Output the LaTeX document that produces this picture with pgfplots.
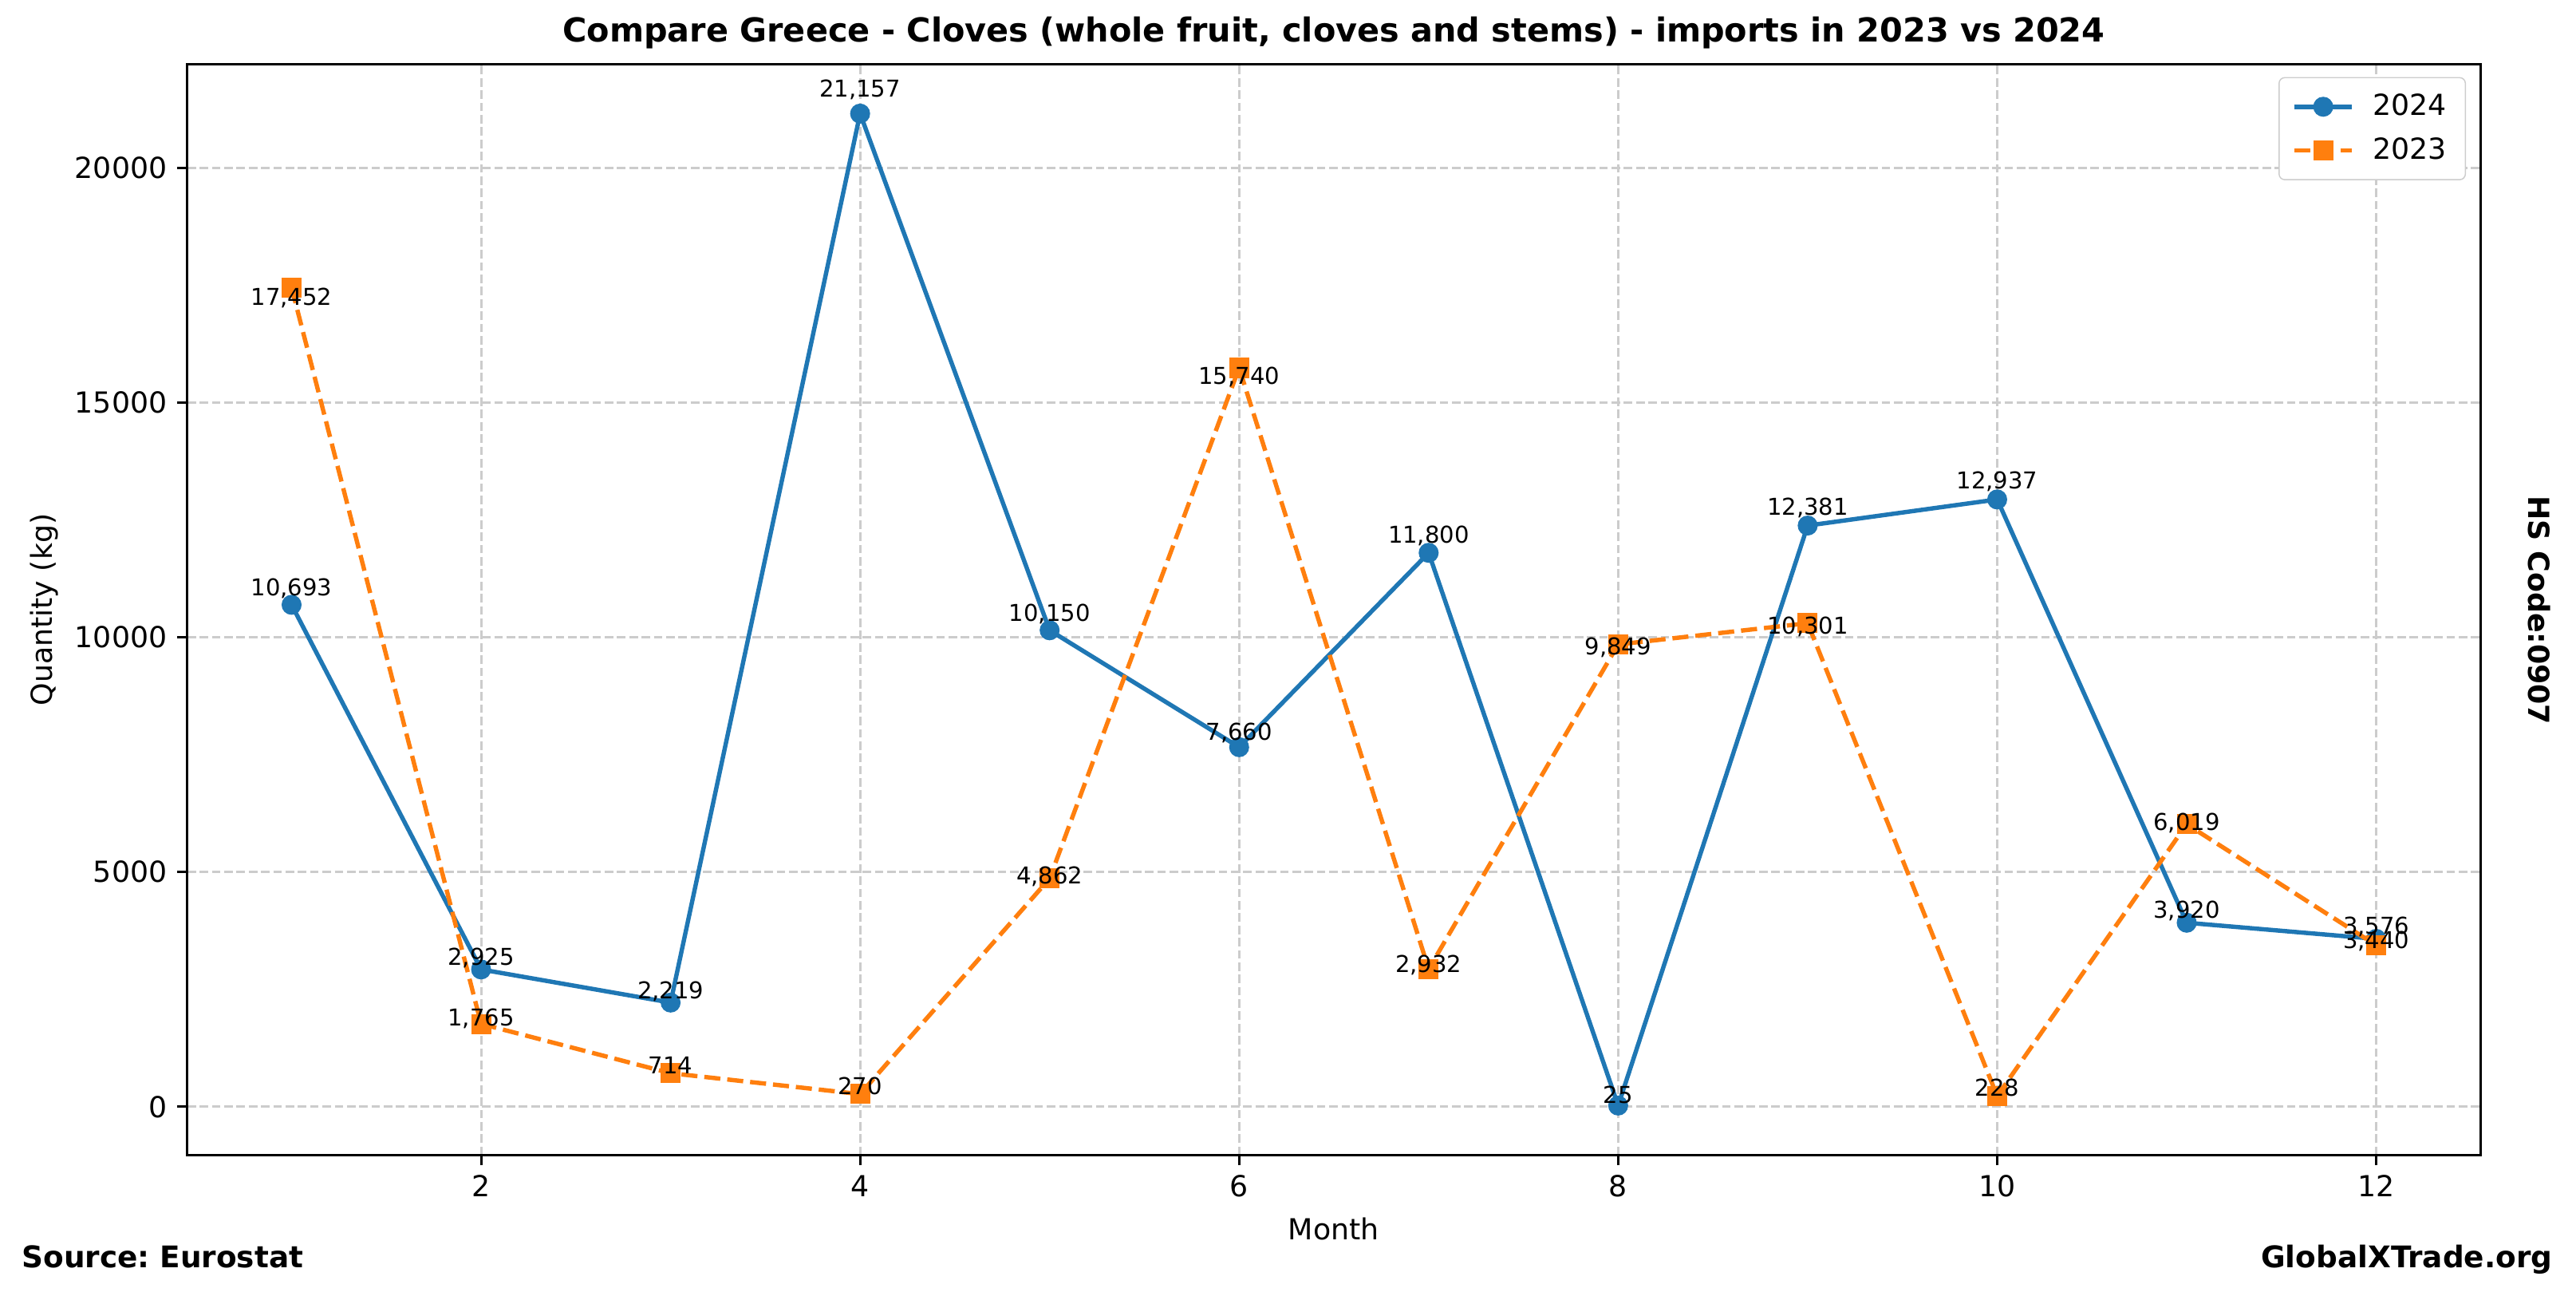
\documentclass[border=0pt]{standalone}
\usepackage{fontspec}
\setmainfont{DejaVu Sans}
\frenchspacing
\usepackage{pgfplots}
\usepackage{pgfplotstable}
\pgfplotsset{compat=1.18}
\definecolor{c24}{HTML}{1F77B4}
\definecolor{c23}{HTML}{FF7F0E}
\definecolor{gridc}{HTML}{CCCCCC}

% month, 2024, 2023 (kg)
\pgfplotstableread{
m  a     b
1  10693 17452
2  2925  1765
3  2219  714
4  21157 270
5  10150 4862
6  7660  15740
7  11800 2932
8  25    9849
9  12381 10301
10 12937 228
11 3920  6019
12 3576  3440
}\imports

\begin{document}
\begin{tikzpicture}
\useasboundingbox (0,0) rectangle (889.6pt,447.4pt);
\begin{axis}[
  at={(64.7pt,48.6pt)}, anchor=south west,
  scale only axis, width=791.9pt, height=376.7pt,
  xmin=0.45, xmax=12.55, ymin=-1031.6, ymax=22213.6,
  xtick={2,4,...,12}, ytick={0,5000,...,20000},
  tick pos=left, tick align=outside, major tick length=3.5pt,
  axis line style={line width=0.8pt},
  every tick/.style={black, line width=0.8pt},
  grid=major,
  grid style={gridc, line width=0.8pt, dash pattern=on 2.96pt off 1.28pt},
  tick label style={font=\fontsize{10}{12}\selectfont},
  /pgf/number format/assume math mode=true,
  scaled y ticks=false,
  y tick label style={/pgf/number format/.cd, fixed, 1000 sep={}},
  clip=false,
  legend style={at={(rel axis cs:1,1)}, anchor=north east, xshift=-5pt, yshift=-4.5pt,
    draw=black!20, rounded corners=2pt, fill=white,
    font=\fontsize{10}{12}\selectfont, row sep=2.2pt, column sep=4.4pt,
    inner xsep=4.5pt, inner ysep=3.6pt, cells={anchor=west}},
  legend image code/.code={\draw[mark repeat=2, mark phase=2, #1] plot coordinates {(0pt,0pt) (10pt,0pt) (20pt,0pt)};},
  lbl/.style={draw=none, mark=none, forget plot,
    nodes near coords={\pgfmathprintnumber[fixed, precision=0, 1000 sep={,}, assume math mode=true]{\pgfplotspointmeta}},
    every node near coord/.append style={anchor=base, inner sep=0pt, text=black,
      font=\fontsize{8}{9.6}\selectfont}},
]
\addplot[c24, line width=1.5pt, mark=*, mark size=3.2pt,
  mark options={solid, fill=c24, draw=c24, line width=0.5pt}]
  table[x=m, y=a] {\imports};
\addlegendentry{2024}
\addplot[c23, line width=1.5pt, dash pattern=on 5.55pt off 2.4pt, mark=square*, mark size=3.2pt,
  mark options={solid, fill=c23, draw=c23, line width=0.5pt}]
  table[x=m, y=b] {\imports};
\addlegendentry{2023}
\addplot[lbl, point meta=\thisrow{a}] table[x=m, y expr=\thisrow{a}*1.014+50] {\imports};
\addplot[lbl, point meta=\thisrow{b}] table[x=m, y expr=\thisrow{b}*0.978] {\imports};
\end{axis}
\node[font=\bfseries\fontsize{11.4}{13.7}\selectfont] at (460.6pt,436.1pt)
  {Compare Greece - Cloves (whole fruit, cloves and stems) - imports in 2023 vs 2024};
\node[font=\fontsize{10}{12}\selectfont] at (460.6pt,23.1pt) {Month};
\node[rotate=90, font=\fontsize{10}{12}\selectfont] at (15.3pt,236.9pt) {Quantity (kg)};
\node[anchor=base west, inner sep=0pt, font=\bfseries\fontsize{10.3}{12.4}\selectfont] at (7.4pt,9.9pt) {Source: Eurostat};
\node[anchor=base east, inner sep=0pt, font=\bfseries\fontsize{10.3}{12.4}\selectfont] at (881.6pt,9.9pt) {GlobalXTrade.org};
\node[rotate=-90, font=\bfseries\fontsize{10}{12}\selectfont] at (877pt,236.7pt) {HS Code:0907};
\end{tikzpicture}
\end{document}
